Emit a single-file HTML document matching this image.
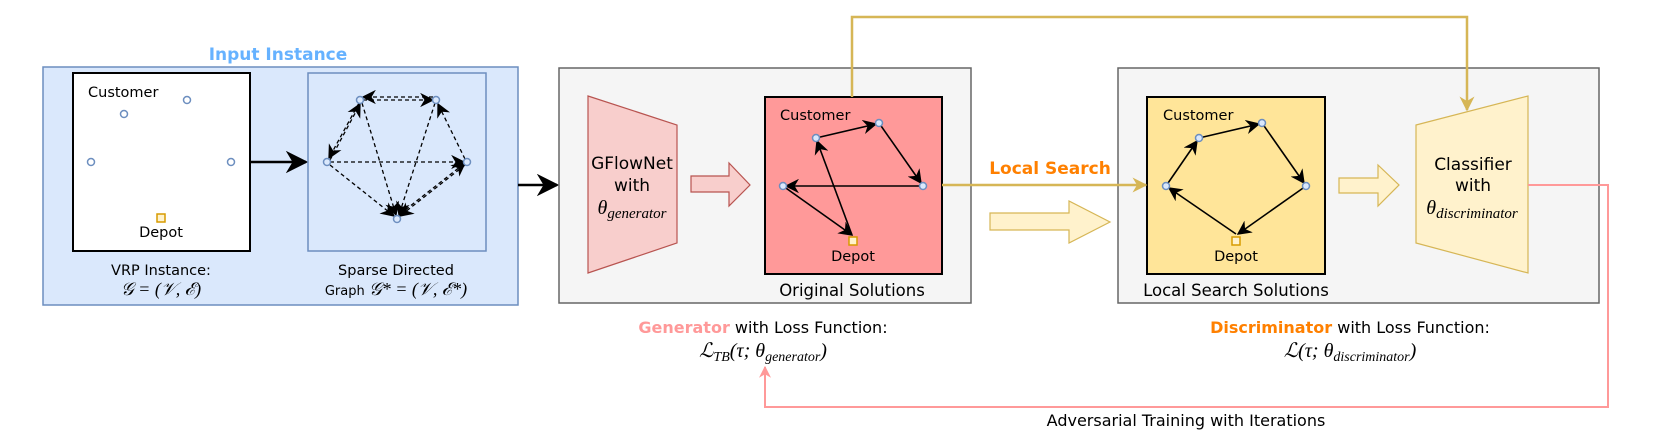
<!DOCTYPE html>
<html><head><meta charset="utf-8"><style>
html,body{margin:0;padding:0;background:#fff;}
svg{display:block;}
text{font-family:"DejaVu Sans","Liberation Sans",sans-serif;}
.m{font-family:"Liberation Serif","DejaVu Serif",serif;font-style:italic;}
</style></head><body>
<svg width="1660" height="446" viewBox="0 0 1660 446" xmlns="http://www.w3.org/2000/svg">
<defs>
<marker id="ab" viewBox="0 0 10 10" refX="9" refY="5" markerWidth="9" markerHeight="9" orient="auto-start-reverse"><path d="M0,0 L10,5 L0,10 L3,5 z" fill="#000"/></marker>
<marker id="ab2" viewBox="0 0 10 10" refX="9" refY="5" markerWidth="11" markerHeight="11" orient="auto"><path d="M0,0 L10,5 L0,10 L3,5 z" fill="#000"/></marker>
<marker id="ag" viewBox="0 0 10 10" refX="9" refY="5" markerWidth="6" markerHeight="6" orient="auto"><path d="M0,0 L10,5 L0,10 L3,5 z" fill="#d6b656"/></marker>
<marker id="ap" viewBox="0 0 10 10" refX="9" refY="5" markerWidth="6" markerHeight="6" orient="auto"><path d="M0,0 L10,5 L0,10 L3,5 z" fill="#ff9999"/></marker>
</defs>

<!-- Input instance -->
<text x="278" y="60" text-anchor="middle" font-size="17" font-weight="bold" fill="#66b2ff">Input Instance</text>
<rect x="43" y="67" width="475" height="238" fill="#dae8fc" stroke="#6c8ebf" stroke-width="1.5"/>
<rect x="73" y="73" width="177" height="178" fill="#fff" stroke="#000" stroke-width="2"/>
<text x="88" y="97" font-size="14.5">Customer</text>
<g fill="none" stroke="#6c8ebf" stroke-width="1.5">
<circle cx="124" cy="114" r="3.5"/><circle cx="187" cy="100" r="3.5"/><circle cx="91" cy="162" r="3.5"/><circle cx="231" cy="162" r="3.5"/>
</g>
<rect x="157" y="214" width="8" height="8" fill="#fff2cc" stroke="#d79b00" stroke-width="1.5"/>
<text x="161" y="237" text-anchor="middle" font-size="14.5">Depot</text>
<line x1="250" y1="162" x2="306" y2="162" stroke="#000" stroke-width="2.5" marker-end="url(#ab)"/>

<rect x="308" y="73" width="178" height="178" fill="#dae8fc" stroke="#6c8ebf" stroke-width="1.5"/>
<g stroke="#000" stroke-width="1.3" stroke-dasharray="4,3" fill="none" marker-end="url(#ab2)">
<line x1="363" y1="100" x2="433" y2="100"/>
<line x1="433" y1="97" x2="363" y2="97"/>
<line x1="359" y1="103" x2="329" y2="158"/>
<line x1="330" y1="160" x2="360" y2="104"/>
<line x1="330" y1="162" x2="464" y2="162"/>
<line x1="330" y1="165" x2="394" y2="216"/>
<line x1="362" y1="103" x2="396" y2="215"/>
<line x1="435" y1="103" x2="399" y2="215"/>
<line x1="465" y1="159" x2="438" y2="104"/>
<line x1="465" y1="165" x2="400" y2="216"/>
<line x1="400" y1="214" x2="465" y2="163"/>
</g>
<g fill="#dae8fc" stroke="#6c8ebf" stroke-width="1.5">
<circle cx="360" cy="100" r="3.5"/><circle cx="436" cy="100" r="3.5"/><circle cx="327" cy="162" r="3.5"/><circle cx="467" cy="162" r="3.5"/><circle cx="397" cy="219" r="3.5"/>
</g>
<text x="161" y="275" text-anchor="middle" font-size="14.5">VRP Instance:</text>
<text x="161" y="295" text-anchor="middle" font-size="18" class="m">𝒢 = (𝒱, ℰ)</text>
<text x="396" y="275" text-anchor="middle" font-size="14.5">Sparse Directed</text>
<text x="396" y="295" text-anchor="middle" font-size="13">Graph <tspan class="m" font-size="18">𝒢* = (𝒱, ℰ*)</tspan></text>

<line x1="518" y1="185" x2="557" y2="185" stroke="#000" stroke-width="2.5" marker-end="url(#ab)"/>

<!-- Generator box -->
<rect x="559" y="68" width="412" height="235" fill="#f5f5f5" stroke="#666" stroke-width="1.5"/>
<polygon points="588,96 677,125 677,243 588,273" fill="#f8cecc" stroke="#b85450" stroke-width="1.2"/>
<text x="632" y="169" text-anchor="middle" font-size="17">GFlowNet</text>
<text x="632" y="191" text-anchor="middle" font-size="17">with</text>
<text x="632" y="214" text-anchor="middle" font-size="20" class="m">θ<tspan font-size="15" dy="4">generator</tspan></text>
<polygon points="691,176 729,176 729,163 750,185 729,206 729,192 691,192" fill="#f8cecc" stroke="#b85450" stroke-width="1.2"/>
<rect x="765" y="97" width="177" height="177" fill="#ff9999" stroke="#000" stroke-width="2"/>
<text x="780" y="120" font-size="14.5">Customer</text>
<g stroke="#000" stroke-width="1.6" marker-end="url(#ab)">
<line x1="816" y1="138" x2="876" y2="124"/>
<line x1="879" y1="123" x2="921" y2="183"/>
<line x1="923" y1="186" x2="786" y2="186"/>
<line x1="783" y1="186" x2="852" y2="235"/>
<line x1="852" y1="235" x2="817" y2="141"/>
</g>
<g fill="#dae8fc" stroke="#6c8ebf" stroke-width="1.5">
<circle cx="816" cy="138" r="3.5"/><circle cx="879" cy="123" r="3.5"/><circle cx="923" cy="186" r="3.5"/><circle cx="783" cy="186" r="3.5"/>
</g>
<rect x="849" y="237" width="8" height="8" fill="#fff2cc" stroke="#d79b00" stroke-width="1.5"/>
<text x="853" y="261" text-anchor="middle" font-size="14.5">Depot</text>
<text x="852" y="296" text-anchor="middle" font-size="16.5">Original Solutions</text>

<text x="763" y="333" text-anchor="middle" font-size="16"><tspan font-weight="bold" fill="#ff9999">Generator</tspan> with Loss Function:</text>
<text x="763" y="357" text-anchor="middle" font-size="20" class="m">ℒ<tspan font-size="14" dy="4">TB</tspan><tspan dy="-4">(τ; θ</tspan><tspan font-size="14" dy="4">generator</tspan><tspan dy="-4">)</tspan></text>

<polygon points="990,213 1069,213 1069,201 1110,222 1069,243 1069,230 990,230" fill="#fff2cc" stroke="#d6b656" stroke-width="1.2"/>

<!-- Discriminator box -->
<rect x="1118" y="68" width="481" height="235" fill="#f5f5f5" stroke="#666" stroke-width="1.5"/>
<rect x="1147" y="97" width="178" height="177" fill="#ffe599" stroke="#000" stroke-width="2"/>
<text x="1163" y="120" font-size="14.5">Customer</text>
<g stroke="#000" stroke-width="1.6" marker-end="url(#ab)">
<line x1="1166" y1="186" x2="1197" y2="141"/>
<line x1="1199" y1="138" x2="1259" y2="124"/>
<line x1="1262" y1="123" x2="1304" y2="183"/>
<line x1="1306" y1="186" x2="1238" y2="234"/>
<line x1="1236" y1="234" x2="1169" y2="188"/>
</g>
<g fill="#dae8fc" stroke="#6c8ebf" stroke-width="1.5">
<circle cx="1166" cy="186" r="3.5"/><circle cx="1199" cy="138" r="3.5"/><circle cx="1262" cy="123" r="3.5"/><circle cx="1306" cy="186" r="3.5"/>
</g>
<rect x="1232" y="237" width="8" height="8" fill="#fff2cc" stroke="#d79b00" stroke-width="1.5"/>
<text x="1236" y="261" text-anchor="middle" font-size="14.5">Depot</text>
<text x="1236" y="296" text-anchor="middle" font-size="16.5">Local Search Solutions</text>
<polygon points="1339,178 1378,178 1378,165 1399,185 1378,206 1378,193 1339,193" fill="#fff2cc" stroke="#d6b656" stroke-width="1.2"/>
<polygon points="1416,125 1528,96 1528,273 1416,243" fill="#fff2cc" stroke="#d6b656" stroke-width="1.2"/>
<text x="1473" y="170" text-anchor="middle" font-size="17">Classifier</text>
<text x="1473" y="191" text-anchor="middle" font-size="17">with</text>
<text x="1472" y="214" text-anchor="middle" font-size="20" class="m">θ<tspan font-size="15" dy="4">discriminator</tspan></text>

<text x="1350" y="333" text-anchor="middle" font-size="16"><tspan font-weight="bold" fill="#ff8000">Discriminator</tspan> with Loss Function:</text>
<text x="1350" y="357" text-anchor="middle" font-size="20" class="m">ℒ(τ; θ<tspan font-size="14" dy="4">discriminator</tspan><tspan dy="-4">)</tspan></text>

<!-- gold connectors (on top) -->
<polyline points="852,97 852,17 1467,17 1467,110" fill="none" stroke="#d6b656" stroke-width="2.5" marker-end="url(#ag)"/>
<line x1="942" y1="185" x2="1146" y2="185" stroke="#d6b656" stroke-width="2.5" marker-end="url(#ag)"/>
<text x="1050" y="174" text-anchor="middle" font-size="17" font-weight="bold" fill="#ff8000">Local Search</text>

<!-- feedback -->
<polyline points="1528,185 1608,185 1608,407 765,407 765,367" fill="none" stroke="#ff9999" stroke-width="2" marker-end="url(#ap)"/>
<text x="1186" y="426" text-anchor="middle" font-size="16">Adversarial Training with Iterations</text>
</svg>
</body></html>
